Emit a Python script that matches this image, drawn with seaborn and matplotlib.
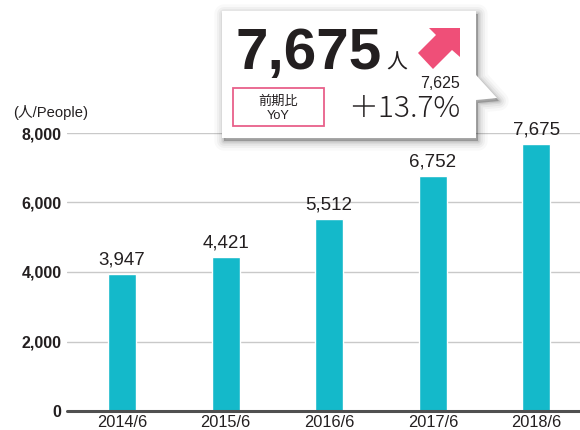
import matplotlib
matplotlib.use("Agg")
import matplotlib.pyplot as plt
import matplotlib.transforms as mtransforms
from matplotlib.patches import Polygon, Rectangle
import seaborn as sns
import pandas as pd

# ---- data ----
periods = ["2014/6", "2015/6", "2016/6", "2017/6", "2018/6"]
people = [3947, 4421, 5512, 6752, 7675]
yticks = [0, 2000, 4000, 6000, 8000]
headline_value = "7,675"
headline_unit = "人"
prev_value = "7,625"
yoy_text = "＋13.7%"
yoy_label_jp = "前期比"
yoy_label_en = "YoY"
y_unit_label = "(人/People)"

BAR = "#14b9ca"
TXT = "#231f20"
PINK = "#ef4f78"

sns.set_theme(style="white")
plt.rcParams["font.family"] = ["Liberation Sans", "Noto Sans CJK JP", "DejaVu Sans"]

W, H = 580, 430
fig = plt.figure(figsize=(W / 100, H / 100), dpi=100)
left, right, top0, bottom0 = 67, 580, 133, 411
ax = fig.add_axes([left / W, (H - bottom0) / H, (right - left) / W, (bottom0 - top0) / H])

df = pd.DataFrame({"period": periods, "people": people})
sns.barplot(data=df, x="period", y="people", color=BAR, width=0.27,
            saturation=1, ax=ax, zorder=3)

ax.set_xlim(-0.53, 4.42)
ax.set_ylim(0, 8000)
ax.set_yticks(yticks)
ax.set_yticklabels([f"{v:,}" for v in yticks], fontweight="bold", fontsize=11.5, color=TXT)
ax.tick_params(axis="y", length=0, pad=4)
ax.tick_params(axis="x", length=0, pad=3, labelsize=11.8, labelcolor=TXT)
ax.set_xlabel("")
ax.set_ylabel("")
for s in ax.spines.values():
    s.set_visible(False)
ax.grid(axis="y", color="#c9c9c9", lw=1, zorder=0)
ax.axhline(0, color="#505050", lw=2.2, clip_on=False, zorder=4)

ax.bar_label(ax.containers[0], labels=[f"{v:,}" for v in people], padding=4,
             fontsize=13.5, color=TXT)

# pixel transform (origin top-left)
px = mtransforms.Affine2D().scale(1 / W, -1 / H).translate(0, 1) + fig.transFigure

fig.text(13, 113, y_unit_label, transform=px, fontsize=10.6, color=TXT,
         va="center", ha="left")

# ---- callout ----
verts = [(222, 11), (476, 11), (476, 75), (497, 98), (476, 100), (476, 138), (222, 138)]
# soft shadow
for lw, a in [(14, 0.025), (10, 0.035), (7, 0.045), (4, 0.06), (2, 0.08)]:
    sh = Polygon([(x + 2, y + 3) for x, y in verts], closed=True, transform=px,
                 facecolor=(0, 0, 0, a), edgecolor=(0, 0, 0, a), lw=lw,
                 joinstyle="round", zorder=9)
    fig.patches.append(sh)
callout = Polygon(verts, closed=True, transform=px, facecolor="white",
                  edgecolor="none", zorder=10)
fig.patches.append(callout)

fig.text(236, 69, headline_value, transform=px, fontsize=42, fontweight="bold",
         color=TXT, ha="left", va="baseline", zorder=11)
fig.text(386, 69, headline_unit, transform=px, fontsize=15, color=TXT,
         ha="left", va="baseline", zorder=11, family=["Noto Sans CJK JP"])

arrow = Polygon([(460, 28), (460, 57), (452, 50), (433, 69), (418, 53), (436, 35), (429, 28)],
                closed=True, transform=px, facecolor=PINK, edgecolor="none", zorder=11)
fig.patches.append(arrow)

fig.text(460, 88, prev_value, transform=px, fontsize=11.5, color=TXT,
         ha="right", va="baseline", zorder=11)
fig.text(460, 117, yoy_text, transform=px, fontsize=21.5, color=TXT,
         ha="right", va="baseline", zorder=11,
         family=["Noto Sans CJK JP", "Liberation Sans"], fontweight="light")

box = Rectangle((233, 88), 91, 38, transform=px, facecolor="white",
                edgecolor="#e8608a", lw=1.3, zorder=11)
fig.patches.append(box)
fig.text(278.5, 101, yoy_label_jp, transform=px, fontsize=9.5, color=TXT,
         ha="center", va="center", zorder=12, family=["Noto Sans CJK JP"])
fig.text(278.5, 116, yoy_label_en, transform=px, fontsize=9.2, color=TXT,
         ha="center", va="center", zorder=12)

fig.savefig("out.png", dpi=100)
